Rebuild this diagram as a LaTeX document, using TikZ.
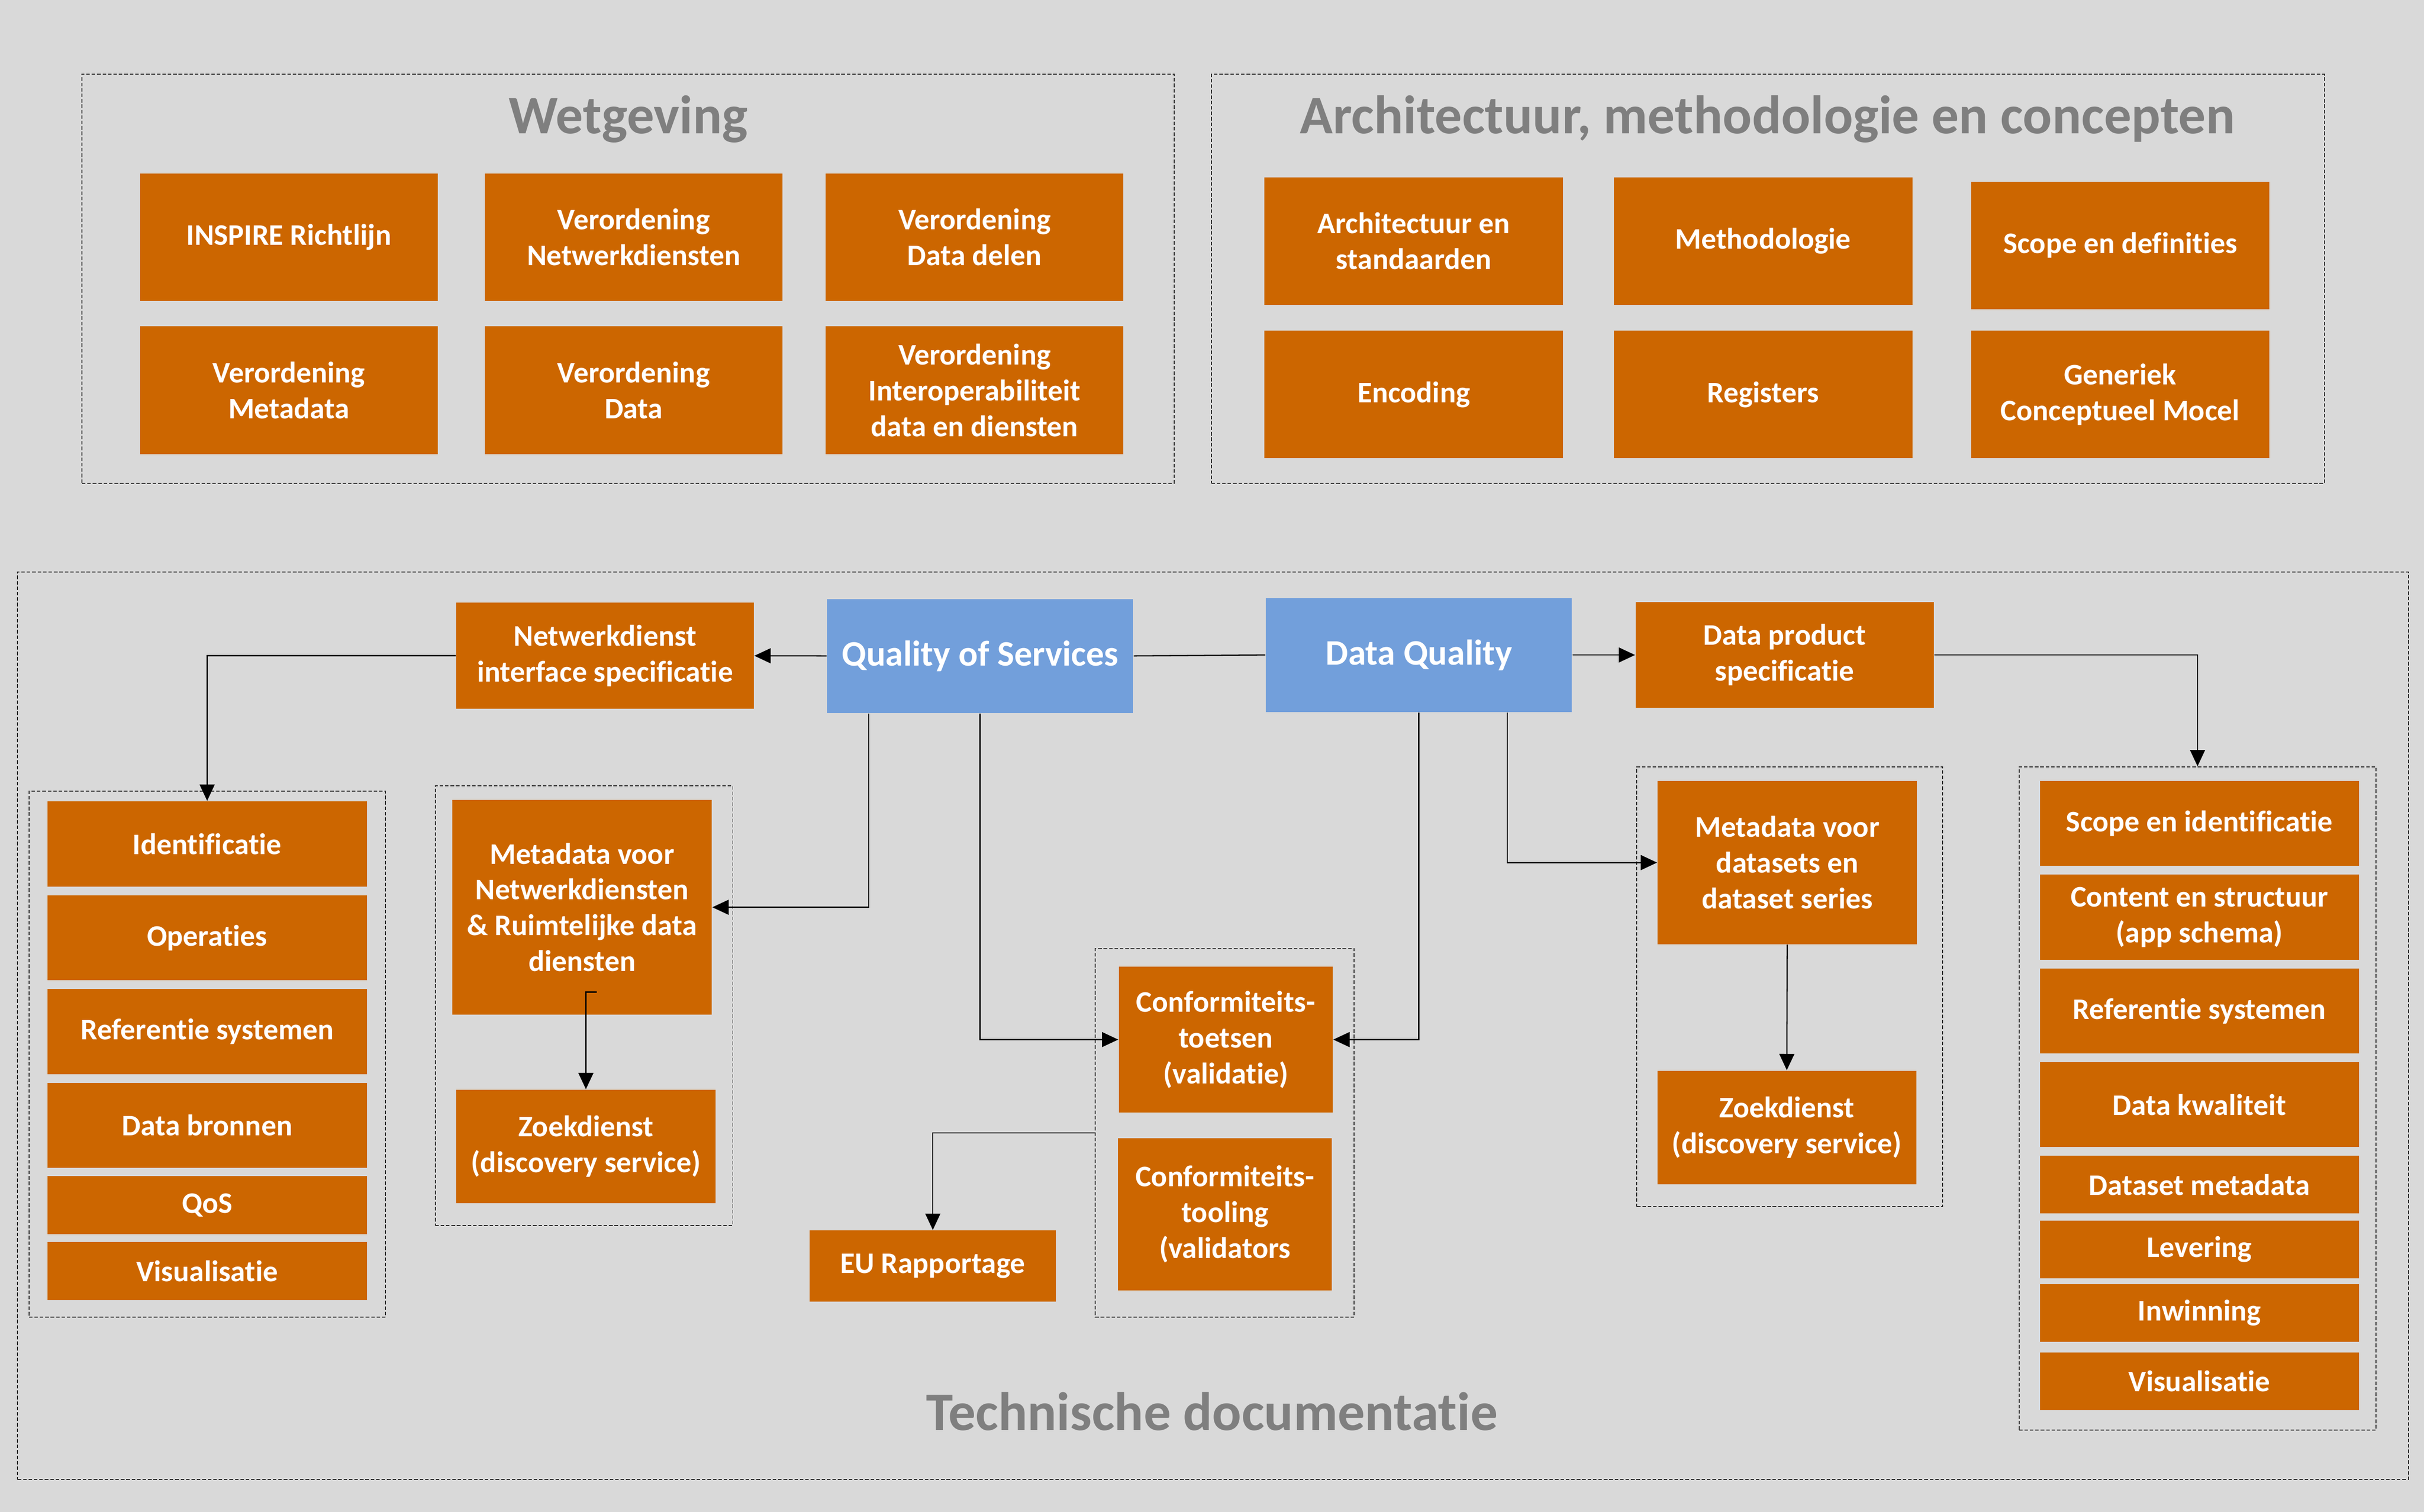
\documentclass[tikz,border=0pt]{standalone}
\usepackage{fontspec}
\setmainfont{Carlito}[Ligatures={NoCommon,NoRare,NoContextual}]
\usetikzlibrary{arrows.meta}
\definecolor{oranje}{RGB}{204,102,0}
\definecolor{blauw}{RGB}{114,159,219}
\definecolor{achtergrond}{RGB}{217,217,217}
\definecolor{titelgrijs}{RGB}{127,127,127}
\begin{document}
\begin{tikzpicture}[x=0.02cm,y=-0.02cm,
        blok/.style 2 args={fill=oranje,text=white,font=\fontsize{11}{13.2}\selectfont\bfseries,align=center,inner sep=0pt,minimum width=#1*0.02cm,minimum height=#2*0.02cm},
        kwal/.style={blok={198}{73.7},fill=blauw,font=\fontsize{13.2}{16}\selectfont\bfseries},
        kader/.style 2 args={draw=black!85,dash pattern=on 1.3pt off 0.7pt,line width=0.35pt,inner sep=0pt,minimum width=#1*0.02cm,minimum height=#2*0.02cm},
        titel/.style={text=titelgrijs,font=\fontsize{20}{24}\selectfont\bfseries,anchor=base},
        pijl/.style={line width=0.45pt,-{Triangle[length=6pt,width=5.5pt]}},
        lijn/.style={line width=0.45pt}]
        %% Background
        \path[use as bounding box,fill=achtergrond] (0,0) rectangle (1568,978);
        %% Frames
        \node[kader={706.6}{264.5}] (wetkader) at (406.3,180.3) {};
        \node[kader={720.1}{264.5}] (archkader) at (1143.6,180.3) {};
        \node[kader={1546.6}{587}] (techkader) at (784.7,663.5) {};
        \node[kader={230.7}{340.2}] (linkskader) at (134.05,681.9) {};
        \node[kader={192.5}{284.3}] (metanetkader) at (377.75,650.55) {};
        \node[kader={167.5}{238.4}] (confkader) at (792.25,732.8) {};
        \node[kader={197.8}{284.6}] (datasetkader) at (1157.7,638.3) {};
        \node[kader={231}{429}] (scopekader) at (1421.5,710.5) {};
        %% Titles
        \node[titel] (wettitel) at (406.4,86.3) {Wetgeving};
        \node[titel] (archtitel) at (1143.3,86.3) {Architectuur, methodologie en concepten};
        \node[titel] (techtitel) at (784,925.4) {Technische documentatie};
        %% Wetgeving
        \node[blok={192.7}{82.6}] (inspire) at (186.9,153.5) {INSPIRE Richtlijn};
        \node[blok={192.7}{82.6}] (vonetwerk) at (409.9,153.5) {Verordening\\Netwerkdiensten};
        \node[blok={192.7}{82.6}] (vodelen) at (630.4,153.5) {Verordening\\Data delen};
        \node[blok={192.7}{82.6}] (vometa) at (186.9,252.5) {Verordening\\Metadata};
        \node[blok={192.7}{82.6}] (vodata) at (409.9,252.5) {Verordening\\Data};
        \node[blok={192.7}{82.6}] (vointer) at (630.4,252.5) {Verordening\\Interoperabiliteit\\data en diensten};
        %% Architectuur
        \node[blok={193}{82.5}] (archstd) at (914.5,156) {Architectuur en\\standaarden};
        \node[blok={193}{82.5}] (methodo) at (1140.5,156) {Methodologie};
        \node[blok={193}{82.5}] (scopedef) at (1371.5,158.7) {Scope en definities};
        \node[blok={193}{82.5}] (encoding) at (914.5,255.2) {Encoding};
        \node[blok={193}{82.5}] (registers) at (1140.5,255.2) {Registers};
        \node[blok={193}{82.5}] (gcm) at (1371.5,255.2) {Generiek\\Conceptueel Mocel};
        %% Quality
        \node[kwal] (qos) at (634,424.3) {Quality of Services};
        \node[kwal] (dq) at (917.8,423.7) {Data Quality};
        \node[blok={192.4}{68.5}] (netwspec) at (391.4,424.2) {Netwerkdienst\\interface specificatie};
        \node[blok={192.8}{68.6}] (dataprod) at (1154.4,423.7) {Data product\\specificatie};
        %% Left list
        \node[blok={206.6}{55.2}] (ident) at (134,546) {Identificatie};
        \node[blok={206.6}{55}] (operaties) at (134,606.7) {Operaties};
        \node[blok={206.6}{55.2}] (refsys) at (134,667.2) {Referentie systemen};
        \node[blok={206.6}{55}] (bronnen) at (134,728) {Data bronnen};
        \node[blok={206.6}{37.5}] (qoslijst) at (134,779.55) {QoS};
        \node[blok={206.6}{37.7}] (visual) at (134,822.35) {Visualisatie};
        %% Metadata services
        \node[blok={167.9}{138.9}] (metanet) at (376.5,586.9) {Metadata voor\\Netwerkdiensten\\\& Ruimtelijke data\\diensten};
        \node[blok={167.9}{73.5}] (zoeknet) at (379,741.7) {Zoekdienst\\(discovery service)};
        %% Conformity
        \node[blok={138.4}{94.6}] (conftoets) at (792.9,672.5) {Conformiteits-\\toetsen\\(validatie)};
        \node[blok={138.4}{98.4}] (conftool) at (792.4,785.5) {Conformiteits-\\tooling\\(validators};
        \node[blok={159.3}{46}] (eurap) at (603.4,819) {EU Rapportage};
        %% Metadata datasets
        \node[blok={167.7}{105.5}] (metads) at (1156.1,558) {Metadata voor\\datasets en\\dataset series};
        \node[blok={167.5}{73.5}] (zoekdata) at (1155.8,729.4) {Zoekdienst\\(discovery service)};
        %% Right list
        \node[blok={206.4}{54.8}] (scopeid) at (1422.7,532.7) {Scope en identificatie};
        \node[blok={206.4}{55.2}] (content) at (1422.7,593.4) {Content en structuur\\(app schema)};
        \node[blok={206.4}{55}] (refsysdata) at (1422.7,654) {Referentie systemen};
        \node[blok={206.4}{54.9}] (dkwal) at (1422.7,714.65) {Data kwaliteit};
        \node[blok={206.4}{37.3}] (dsmeta) at (1422.7,766.35) {Dataset metadata};
        \node[blok={206.4}{37.3}] (levering) at (1422.7,808.25) {Levering};
        \node[blok={206.4}{37.3}] (inwinning) at (1422.7,849.35) {Inwinning};
        \node[blok={206.4}{37.6}] (visualdata) at (1422.7,893.6) {Visualisatie};
        %% Connectors
        \draw[pijl] (qos.west) -- (netwspec.east);
        \draw[lijn] (qos.east) -- (dq.west);
        \draw[pijl] (dq.east) -- (dataprod.west);
        \draw[pijl] (netwspec.west) -| (ident.north);
        \draw[pijl] ([xshift=-1.44cm]qos.south) |- (metanet.east);
        \draw[pijl] (qos.south) |- (conftoets.west);
        \draw[pijl] (dq.south) |- (conftoets.east);
        \draw[pijl] ([xshift=1.144cm]dq.south) |- (metads.west);
        \draw[pijl] (dataprod.east) -| (scopekader.north);
        \draw[pijl] ([xshift=0.19cm,yshift=0.3cm]metanet.south) -| (zoeknet.north);
        \draw[pijl] (metads.south) -- (zoekdata.north);
        \draw[pijl] (confkader.west) -| (eurap.north);
\end{tikzpicture}
\end{document}
